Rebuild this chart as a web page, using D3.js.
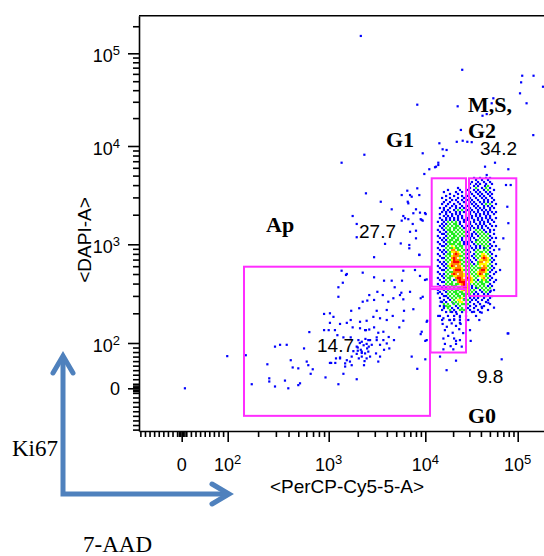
<!DOCTYPE html>
<html>
<head>
<meta charset="utf-8">
<script src="https://cdn.jsdelivr.net/npm/d3@7"></script>
<style>
  html, body { margin: 0; padding: 0; background: #fff; }
  svg { display: block; }
</style>
</head>
<body>
<svg id="chart" width="544" height="556"></svg>
<script>
// ---- Axis ticks -------------------------------------------------------
const majorTicks = [0, 100, 1000, 10000, 100000];
const majorBase = ["0", "10", "10", "10", "10"];
const majorExp = ["", "2", "3", "4", "5"];

// ---- Gates ------------------------------------------------------------
const gateNames = ["Ap", "G1", "M,S,G2", "G0"];
const gatePerCP = [[145, 11240], [11730, 27570], [29710, 96560], [11380, 27570]];
const gateDAPI = [[-60, 593], [372, 4693], [299, 4693], [79, 352]];
const gateFreq = [14.7, 27.7, 34.2, 9.8];

// ---- Events [PerCP-Cy5-5-A, DAPI-A] ----------------------------------
const apEvents = [
[2950,740],[8670,785],[1360,540],[1540,500],[2250,516],[2950,463],[3740,428],[4490,428],[5920,540],[5740,428],
[1260,367],[1400,408],[2630,306],[3190,330],[3630,306],[4820,367],[5650,323],[6950,330],[5920,277],[8960,284],
[1260,294],[2250,262],[2510,269],[2950,273],[4140,262],[7520,220],[6020,212],[1710,212],[2070,225],[3140,212],
[3990,216],[900,197],[1030,200],[1120,184],[1690,171],[2110,164],[2470,168],[2900,184],[3400,178],[3990,171],
[4600,188],[5920,168],[5380,144],[1030,160],[1310,156],[1540,160],[1770,144],[2110,141],[2380,135],[2630,137],
[2950,144],[3260,127],[3680,130],[4180,115],[3680,107],[3140,107],[2680,107],[643,129],[900,135],[1000,135],
[1160,135],[1230,120],[1420,114],[1690,114],[2030,107],[2200,103],[2470,98],[2790,96],[3400,96],[3990,99],
[1950,92],[2150,85],[2380,77],[2570,81],[1950,76],[2200,70],[2470,66],[1730,70],[1540,62],[1660,59],
[1480,55],[1310,66],[1030,56],[1190,66],[1480,48],[1730,51],[1950,20],[1420,32],[930,24],[1260,9],
[7230,70],[8260,43],[8960,123],[4740,107],[4240,88],[3090,77],[3400,70],[3260,59],[3740,85],[2680,70],
[2320,51],[570,88],[606,59],[628,51],[695,42],[663,32],[421,62],[440,46],[500,44],[294,92],
[330,96],[384,96],[247,53],[258,22],[258,15],[294,4],[369,17],[398,0],[500,7],[520,11],
[173,9],[151,73],[7,0],[99,71],
[1060,56],[1170,56],[1310,68],[2570,107],[3140,114],[2000,83],[2430,135],[2200,81],
[2000,90],[2100,100],[2300,95],[2500,88],[2200,78],[2600,92],[2400,110],[1800,82],[2350,60],[2050,66]
];

const g1ScatterEvents = [
[2340,8150],[9400,8430],[1360,6760],[11050,5800],[13060,6160],[13830,6410],[9770,5190],[2430,3300],[3460,2710],[6510,3510],
[8260,3710],[6950,3170],[7230,3050],[8670,3170],[6580,2710],[6670,2610],[4490,2270],[8010,2270],[8810,2100],[10100,2030],
[5920,1940],[6170,1840],[5700,1740],[6670,1800],[8960,1800],[9400,1740],[1770,1940],[1950,1610],[7410,1610],[6950,1340],
[8010,1375],[1950,1180],[8010,1150],[5570,1020],[3830,1010],[6830,911],[8670,779],[1510,489],[5700,3170],[7520,2070],
[6830,984],[5470,306],[4670,284],[7820,549],[8810,478],[9930,435],[13830,6760],[12740,6080],[9930,2080],[9180,1770]
];

const upperEvents = [
[2150,156000],[25100,66400],[112000,57300],[149000,57300],[109000,48600],[189000,43600],[106000,37000],[125000,28900],[8260,27900],[22400,26800],
[41600,21200],[46200,22100],[54500,32700],[52300,28900],[24300,14900],[21900,11100],[25400,11400],[28500,11100],[17000,9110],[15700,7910],
[148000,13100],[56800,6760],[44300,6160],[79200,5800],[46200,5070],[14200,10700],[15400,9260],[31800,11000]
];

const outerEvents = [
[74700,4010],[84000,4010],[39100,4110],[44300,3920],[77200,2410],[79200,1640],[69900,1150],[63200,889],[64400,549],[79200,125],
[55400,228],[10350,164],[10350,107],[14430,70],[10350,441],[9400,294],[10480,168],[10000,105],[9180,130],[10000,64],
[17000,40],[21500,61],[67100,64],[77900,125],[31000,105],[30470,135],[29200,171],[38400,171],[33700,207],[40800,233],
[40800,203],[48100,256],[51000,338]
];

const g0Events = [
[13700,319],[14700,262],[15900,237],[17700,233],[20100,252],[23300,262],[26200,277],[18800,207],[21900,197],[24800,219],
[13800,188],[15700,178],[18200,171],[20500,174],[23700,182],[15400,156],[17100,146],[19300,158],[21500,149],[24100,156],
[16300,135],[19800,127],[23300,138],[25700,126],[15700,111],[17700,118],[20500,111],[23700,107],[16300,98],[18800,93],
[21500,98],[24800,92],[15700,86],[20100,86],[21500,105],[23700,160]
];

// Main cycling population, one row per DAPI level: [DAPI, PerCP, PerCP, ...]
const cycleRows = [
[4730,33700,39100,45400,50200],
[4510,35400,41100,47700],
[4300,32000,37200,43200,50200],
[4110,30500,35400,45400,52700],
[3920,33700,37200,47700],
[3740,22600,30500,35400,41100,45400,50200],
[3570,17600,23700,29000,33700,37200,43200,47700,55400],
[3400,15900,21500,25000,30500,35400,39100,45400,50200],
[3250,18500,22600,27600,32000,37200,41100,47700,52700],
[3100,16800,20500,25000,29000,33700,39100,43200,50200],
[2960,15200,18500,22600,26200,30500,35400,41100,45400,52700],
[2820,16800,19500,21500,25000,29000,32000,37200,43200,47700,55400],
[2690,15900,18500,22600,26200,30500,33700,39100,43200,47700,52700],
[2570,15200,17600,20500,23700,27600,32000,35400,41100,45400,50200,58200],
[2450,16800,19500,21500,25000,29000,33700,37200,43200,47700,52700],
[2340,14400,15900,18500,21500,23700,26200,30500,35400,39100,43200,50200,55400],
[2230,15900,17600,20500,22600,25000,29000,32000,37200,41100,45400,50200],
[2130,15200,16800,18500,21500,23700,26200,30500,33700,37200,43200,47700,52700,58200],
[2030,14400,16800,19500,21500,23700,27600,30500,35400,39100,43200,47700,55400],
[1940,15900,17600,19500,22600,25000,27600,32000,35400,39100,45400,50200],
[1850,14400,16800,18500,20500,22600,25000,29000,32000,37200,41100,45400,50200,58200],
[1770,15200,16800,18500,20500,22600,26200,29000,33700,37200,41100,47700,52700],
[1690,13700,15900,17600,19500,21500,23700,26200,30500,33700,39100,43200,47700,55400],
[1610,15200,16800,18500,20500,21500,23700,27600,30500,35400,39100,43200,50200],
[1535,14400,15900,17600,19500,21500,22600,25000,29000,32000,37200,41100,45400,52700,58200],
[1465,15200,16800,18500,20500,21500,23700,26200,30500,33700,37200,41100,47700],
[1400,13700,15900,17600,18500,20500,22600,25000,27600,30500,35400,39100,43200,50200,55400],
[1335,14400,16800,18500,19500,21500,23700,26200,29000,33700,37200,41100,45400,50200],
[1275,15200,15900,17600,19500,20500,22600,25000,27600,32000,35400,39100,43200,47700,55400],
[1215,13700,16800,18500,20500,21500,23700,26200,29000,32000,37200,41100,45400,50200],
[1160,14400,15900,17600,19500,20500,22600,25000,27600,30500,33700,39100,43200,47700,52700,58200],
[1105,15200,16800,18500,19500,21500,22600,25000,27600,30500,35400,37200,41100,45400,50200],
[1055,13700,15900,17600,18500,20500,21500,23700,26200,29000,32000,35400,39100,43200,47700,55400],
[1005,14400,16800,18500,19500,20500,22600,23700,26200,29000,33700,37200,41100,45400,50200],
[961,15200,15900,17600,19500,21500,23700,25000,27600,30500,35400,39100,43200,47700,52700,58200],
[917,13700,16800,18500,19500,20500,21500,22600,25000,27600,32000,35400,39100,43200,45400,50200],
[875,14400,15900,17600,19500,20500,22600,23700,26200,29000,33700,37200,43200,47700,55400],
[836,15200,16800,18500,19500,20500,21500,22600,25000,27600,30500,35400,39100,41100,45400,50200],
[797,13700,15900,17600,18500,20500,21500,22600,23700,26200,29000,33700,37200,41100,43200,47700,52700],
[761,14400,16800,18500,19500,20500,21500,22600,23700,25000,27600,32000,35400,39100,41100,43200,45400,50200,58200],
[726,15200,15900,17600,19500,20500,21500,23700,26200,29000,33700,37200,41100,43200,45400,47700,52700],
[693,13700,16800,18500,19500,20500,21500,22600,23700,25000,27600,30500,35400,39100,41100,43200,45400,47700,50200,55400],
[662,14400,15900,17600,19500,20500,21500,22600,23700,26200,29000,32000,37200,39100,41100,45400,47700,52700],
[631,15200,16800,18500,19500,20500,21500,22600,23700,25000,27600,30500,33700,37200,39100,41100,43200,45400,50200,58200],
[603,13700,15900,17600,18500,19500,20500,22600,23700,26200,29000,32000,35400,39100,43200,45400,47700,52700],
[575,14400,16800,18500,19500,20500,21500,22600,23700,25000,27600,30500,33700,37200,39100,41100,43200,45400,50200,55400],
[549,15200,15900,17600,20500,21500,22600,23700,25000,26200,29000,32000,35400,39100,41100,43200,45400,47700,52700],
[524,13700,16800,18500,19500,20500,21500,22600,23700,25000,27600,30500,33700,37200,39100,41100,43200,45400,50200,58200],
[500,14400,15900,17600,19500,20500,21500,23700,25000,26200,29000,32000,35400,37200,39100,41100,45400,47700,55400],
[477,15200,16800,18500,19500,20500,21500,22600,23700,25000,26200,27600,29000,30500,33700,37200,39100,41100,43200,45400,50200],
[456,13700,15900,17600,18500,21500,22600,23700,25000,27600,29000,30500,32000,35400,41100,43200,47700,52700],
[435,14400,16800,18500,20500,21500,22600,23700,25000,26200,27600,29000,30500,32000,33700,37200,41100,43200,45400,50200,58200],
[415,15200,15900,17600,19500,22600,23700,25000,26200,27600,30500,32000,35400,39100,41100,45400,47700,55400],
[396,13700,16800,18500,19500,21500,22600,23700,25000,26200,27600,29000,30500,33700,37200,41100,43200,50200],
[378,14400,15900,17600,19500,20500,21500,25000,26200,27600,29000,32000,35400,39100,43200,47700,52700],
[361,15200,16800,18500,20500,22600,23700,25000,26200,27600,29000,32000,35400,37200,41100,45400,50200],
[344,13700,15900,17600,19500,21500,22600,25000,26200,27600,29000,30500,33700,39100,43200,47700,55400],
[329,14400,16800,18500,20500,21500,23700,25000,27600,29000,32000,35400,41100,45400,50200],
[314,15200,17600,19500,21500,22600,25000,26200,29000,30500,33700,37200,43200,47700],
[299,15900,16800,18500,20500,22600,23700,26200,27600,30500,35400,39100,45400,52700],
[286,14400,17600,19500,21500,23700,25000,27600,30500,33700,37200,43200,50200],
[273,15900,18500,20500,22600,23700,26200,29000,32000,35400,41100,47700],
[260,15200,16800,19500,21500,23700,25000,27600,30500,37200,45400],
[248,15900,17600,20500,22600,25000,26200,29000,33700,39100,50200],
[237,14400,16800,18500,21500,23700,27600,30500,35400,43200],
[226,15900,17600,19500,22600,25000,29000,33700,41100],
[216,15200,18500,20500,23700,26200,30500,37200,47700],
[206,16800,19500,21500,25000,27600,32000,39100],
[188,14400,17600,20500,23700,27600,35400],
[171,15200,18500,20500,23700,27600]
];

// ---- Scales: linear around zero, logarithmic above 10^2 ----------------
const tf = v => v >= 100 ? Math.log10(v) : 2 + (v - 100) * 0.0047;
const axisStops = [-93, 0, 100, 1000, 10000, 100000, 262144];
const xT = d3.scaleLinear().domain(axisStops.map(tf)).range([139, 181.7, 227.7, 328.7, 425.3, 517.7, 556]);
const yT = d3.scaleLinear().domain(axisStops.map(tf)).range([431, 388.3, 343, 244.3, 146, 53.3, 15.7]);
const x = v => xT(tf(v));
const y = v => yT(tf(v));

const svg = d3.select("#chart");
const plotLeft = 139, plotTop = 15.7, plotBottom = 431, plotRight = 556;

svg.append("defs").append("clipPath").attr("id", "plotClip")
  .append("rect").attr("x", plotLeft).attr("y", plotTop)
  .attr("width", plotRight - plotLeft).attr("height", plotBottom - plotTop);

// ---- Events, coloured by the number of close neighbours ----------------
const events = [];
apEvents.concat(g1ScatterEvents, upperEvents, outerEvents, g0Events)
  .forEach(([p, d]) => events.push({ p, d }));
cycleRows.forEach(([d, ...ps]) => ps.forEach(p => events.push({ p, d })));

const pts = events.map(e => ({ px: x(e.p), py: y(e.d) }));
const R2 = 9;
pts.forEach(a => {
  let n = 0;
  for (const b of pts) {
    const dx = a.px - b.px, dy = a.py - b.py;
    if (dx * dx + dy * dy <= R2) n++;
  }
  a.n = n;
});
pts.sort((a, b) => a.n - b.n);

const densityColor = d3.scaleThreshold()
  .domain([5, 7, 8, 9])
  .range(["#0000ff", "#22ee22", "#ffff00", "#ff8c00", "#ff0000"]);

svg.append("g").attr("clip-path", "url(#plotClip)")
  .selectAll("rect").data(pts).join("rect")
  .attr("x", d => d.px - 1.1).attr("y", d => d.py - 1.1)
  .attr("width", 2.2).attr("height", 2.2)
  .attr("fill", d => densityColor(d.n));

// ---- Gates ------------------------------------------------------------
svg.append("g").attr("clip-path", "url(#plotClip)")
  .selectAll("rect").data(gateNames).join("rect")
  .attr("x", (d, i) => x(gatePerCP[i][0]))
  .attr("y", (d, i) => y(gateDAPI[i][1]))
  .attr("width", (d, i) => x(gatePerCP[i][1]) - x(gatePerCP[i][0]))
  .attr("height", (d, i) => y(gateDAPI[i][0]) - y(gateDAPI[i][1]))
  .attr("fill", "none").attr("stroke", "#ff2eff").attr("stroke-width", 2);

// ---- Axes -------------------------------------------------------------
const minorTicks = [];
for (let v = -90; v <= -10; v += 10) minorTicks.push(v);
[-6, -3, 3, 6].forEach(v => minorTicks.push(v));
for (let v = 10; v <= 90; v += 10) minorTicks.push(v);
[100, 1000, 10000, 100000].forEach(dec => {
  for (let k = 2; k <= 9; k++) if (dec * k <= 262144) minorTicks.push(dec * k);
});

const axisStyle = g => {
  g.selectAll("path, line").attr("stroke", "#000").attr("stroke-width", 1.6);
};

svg.append("g").attr("transform", `translate(0,${plotBottom})`)
  .call(d3.axisBottom(xT).tickValues(minorTicks.map(tf)).tickSize(6).tickSizeOuter(0).tickFormat(""))
  .call(axisStyle).call(g => g.select(".domain").remove());
svg.append("g").attr("transform", `translate(0,${plotBottom})`)
  .call(d3.axisBottom(xT).tickValues(majorTicks.map(tf)).tickSize(11).tickSizeOuter(0).tickFormat(""))
  .call(axisStyle);

svg.append("g").attr("transform", `translate(${plotLeft},0)`)
  .call(d3.axisLeft(yT).tickValues(minorTicks.map(tf)).tickSize(6).tickSizeOuter(0).tickFormat(""))
  .call(axisStyle).call(g => g.select(".domain").remove());
svg.append("g").attr("transform", `translate(${plotLeft},0)`)
  .call(d3.axisLeft(yT).tickValues(majorTicks.map(tf)).tickSize(11).tickSizeOuter(0).tickFormat(""))
  .call(axisStyle);

svg.append("line")
  .attr("x1", plotLeft).attr("x2", plotRight).attr("y1", plotTop).attr("y2", plotTop)
  .attr("stroke", "#000").attr("stroke-width", 1.6);

const sans = "'Liberation Sans', Arial, sans-serif";
const serif = "'Liberation Serif', 'Times New Roman', serif";

function tickLabel(sel, i) {
  sel.append("tspan").text(majorBase[i]);
  if (majorExp[i]) sel.append("tspan").attr("dy", -7).attr("font-size", 13).text(majorExp[i]);
}

majorTicks.forEach((v, i) => {
  svg.append("text").attr("x", x(v)).attr("y", 471)
    .attr("text-anchor", "middle").attr("font-family", sans).attr("font-size", 18)
    .call(tickLabel, i);
  svg.append("text").attr("x", 120).attr("y", y(v) + (i === 0 ? 7 : 8.5))
    .attr("text-anchor", "end").attr("font-family", sans).attr("font-size", 18)
    .call(tickLabel, i);
});

svg.append("text").attr("x", 347).attr("y", 493)
  .attr("text-anchor", "middle").attr("font-family", sans).attr("font-size", 19)
  .text("<PerCP-Cy5-5-A>");
svg.append("text").attr("transform", "translate(91,240) rotate(-90)")
  .attr("text-anchor", "middle").attr("font-family", sans).attr("font-size", 19)
  .text("<DAPI-A>");

// ---- Gate names and frequencies ---------------------------------------
const boldLabels = [
  ["Ap", 266, 232], ["G1", 386, 147], ["M,S,", 468, 112], ["G2", 468, 138], ["G0", 468, 423]
];
boldLabels.forEach(([t, lx, ly]) => {
  svg.append("text").attr("x", lx).attr("y", ly)
    .attr("font-family", serif).attr("font-weight", "bold").attr("font-size", 22)
    .attr("fill", "#000").text(t);
});

const freqPos = [[317, 352], [359, 238], [480, 155], [477, 383]];
gateFreq.forEach((f, i) => {
  svg.append("text").attr("x", freqPos[i][0]).attr("y", freqPos[i][1])
    .attr("font-family", sans).attr("font-size", 19).attr("fill", "#000")
    .text(f.toFixed(1));
});

// ---- Marker legend arrows ---------------------------------------------
const arrowColor = "#4f81bd";
svg.append("path").attr("d", "M63,356 L63,494 L229,494")
  .attr("fill", "none").attr("stroke", arrowColor).attr("stroke-width", 5)
  .attr("stroke-linejoin", "miter");
svg.append("path").attr("d", "M53,373 L63,356 L73,373")
  .attr("fill", "none").attr("stroke", arrowColor).attr("stroke-width", 5)
  .attr("stroke-linecap", "round").attr("stroke-linejoin", "miter");
svg.append("path").attr("d", "M212,484 L229,494 L212,504")
  .attr("fill", "none").attr("stroke", arrowColor).attr("stroke-width", 5)
  .attr("stroke-linecap", "round").attr("stroke-linejoin", "miter");

svg.append("text").attr("x", 12).attr("y", 456)
  .attr("font-family", serif).attr("font-size", 23).text("Ki67");
svg.append("text").attr("x", 83).attr("y", 552)
  .attr("font-family", serif).attr("font-size", 23).text("7-AAD");
</script>
</body>
</html>
